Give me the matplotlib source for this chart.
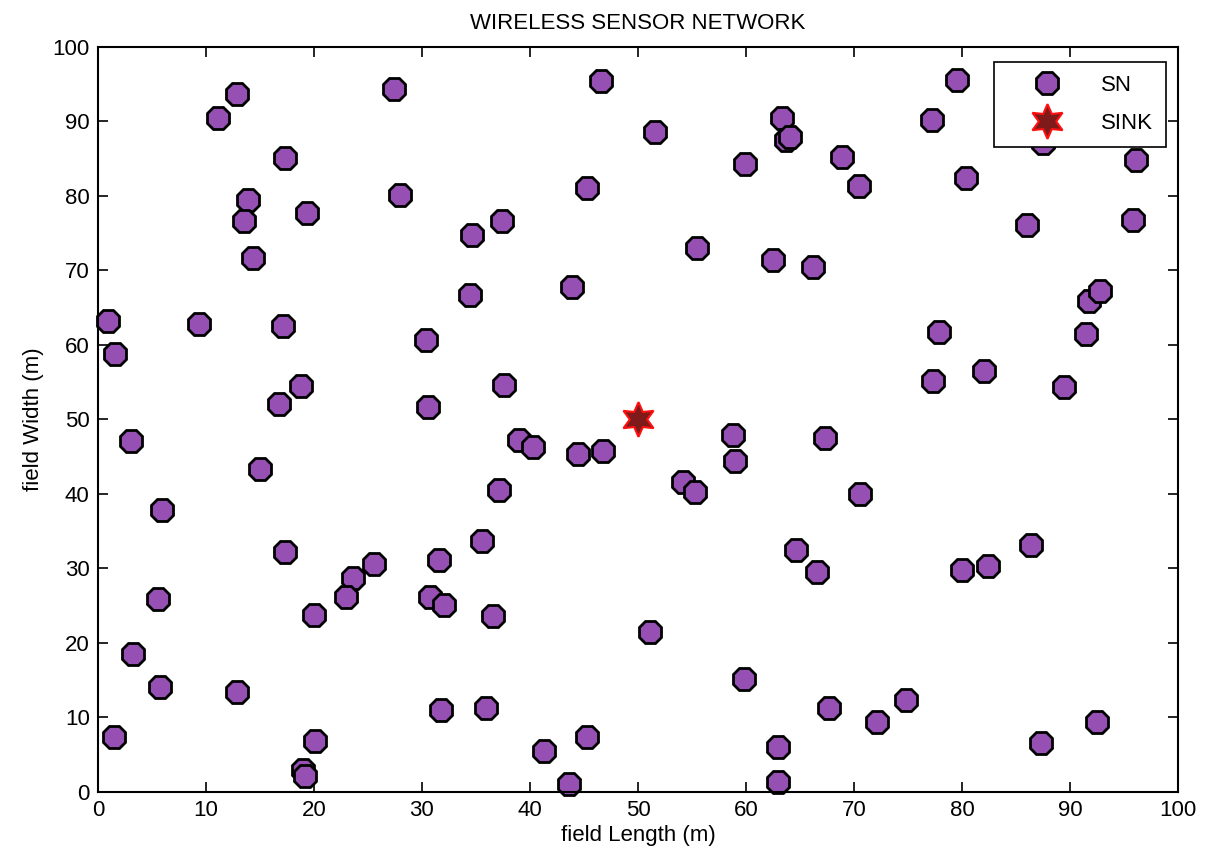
import matplotlib
matplotlib.use("Agg")
import matplotlib.pyplot as plt
from matplotlib.font_manager import fontManager

names = {f.name for f in fontManager.ttflist}
fam = ["Liberation Sans Narrow"] if "Liberation Sans Narrow" in names else ["Liberation Sans"]
plt.rcParams["font.family"] = fam + ["DejaVu Sans"]

sn_x = [0.9, 1.6, 3.1, 5.9, 5.6, 3.2, 5.7, 1.5, 9.4, 11.1, 12.9, 13.9, 13.5, 14.4,
        17.3, 17.1, 16.8, 15.0, 17.3, 12.9, 19.4, 18.8, 20.0, 20.1, 19.0, 19.2,
        27.4, 28.0, 30.4, 30.6, 25.6, 23.6, 23.0, 30.7, 32.0, 31.6, 31.8, 34.6,
        34.4, 37.4, 37.6, 39.0, 40.3, 37.1, 35.6, 36.6, 35.9, 41.3, 43.6, 45.3,
        43.9, 45.3, 46.6, 44.4, 46.8, 51.6, 51.1, 55.5, 54.2, 55.3, 58.8, 59.0,
        59.9, 59.8, 63.0, 63.0, 62.5, 63.3, 63.7, 64.1, 64.6, 66.2, 66.6, 67.3,
        68.9, 70.5, 70.6, 67.7, 72.1, 74.8, 77.2, 79.5, 80.4, 77.9, 77.3, 80.0,
        82.4, 82.0, 87.5, 86.0, 86.4, 87.3, 89.4, 91.5, 91.75, 92.8, 92.5, 95.8,
        96.1]
sn_y = [63.2, 58.8, 47.1, 37.9, 25.9, 18.5, 14.1, 7.4, 62.8, 90.5, 93.7, 79.5, 76.6, 71.7,
        85.1, 62.6, 52.1, 43.4, 32.2, 13.4, 77.7, 54.5, 23.8, 6.8, 3.0, 2.2,
        94.4, 80.1, 60.7, 51.7, 30.6, 28.7, 26.2, 26.2, 25.1, 31.1, 11.0, 74.8,
        66.7, 76.6, 54.6, 47.2, 46.3, 40.5, 33.7, 23.6, 11.3, 5.5, 1.1, 7.4,
        67.8, 81.1, 95.4, 45.4, 45.8, 88.6, 21.5, 73.0, 41.6, 40.3, 47.9, 44.4,
        84.3, 15.2, 6.0, 1.3, 71.4, 90.5, 87.5, 87.9, 32.5, 70.5, 29.5, 47.5,
        85.2, 81.3, 40.0, 11.3, 9.4, 12.3, 90.2, 95.6, 82.4, 61.7, 55.2, 29.8,
        30.3, 56.5, 87.1, 76.1, 33.2, 6.6, 54.4, 61.5, 65.9, 67.2, 9.4, 76.8,
        84.8]
sink_x = [50]
sink_y = [50]

fig = plt.figure(figsize=(12.05, 8.65), dpi=100)
ax = fig.add_axes([0.0813, 0.0844, 0.8963, 0.8613])

ax.plot(sn_x, sn_y, linestyle="none", marker="8", markersize=17,
        markerfacecolor="#9650b4", markeredgecolor="black", markeredgewidth=2.0,
        label="SN", clip_on=False)
ax.plot(sink_x, sink_y, linestyle="none", marker=(6, 1, 0), markersize=25,
        markerfacecolor="#7f1a1a", markeredgecolor="#ff1010", markeredgewidth=1.5,
        label="SINK")

ax.set_xlim(0, 100)
ax.set_ylim(0, 100)
ax.set_xticks(range(0, 101, 10))
ax.set_yticks(range(0, 101, 10))
ax.tick_params(direction="in", top=True, right=True, length=7, width=1.2,
               labelsize=16, colors="black", pad=6)
for s in ax.spines.values():
    s.set_linewidth(1.5)

ax.set_title("WIRELESS SENSOR NETWORK", fontsize=16, pad=13)
ax.set_xlabel("field Length (m)", fontsize=16, labelpad=3)
ax.set_ylabel("field Width (m)", fontsize=16, labelpad=6)

leg = ax.legend(loc="upper right", fontsize=16, fancybox=False, framealpha=1,
                edgecolor="black", borderpad=0.6, handlelength=3.6,
                handletextpad=0.6, labelspacing=0.75, borderaxespad=0,
                bbox_to_anchor=(0.989, 0.98))
leg.get_frame().set_linewidth(1.2)

fig.savefig("out.png", dpi=100)
